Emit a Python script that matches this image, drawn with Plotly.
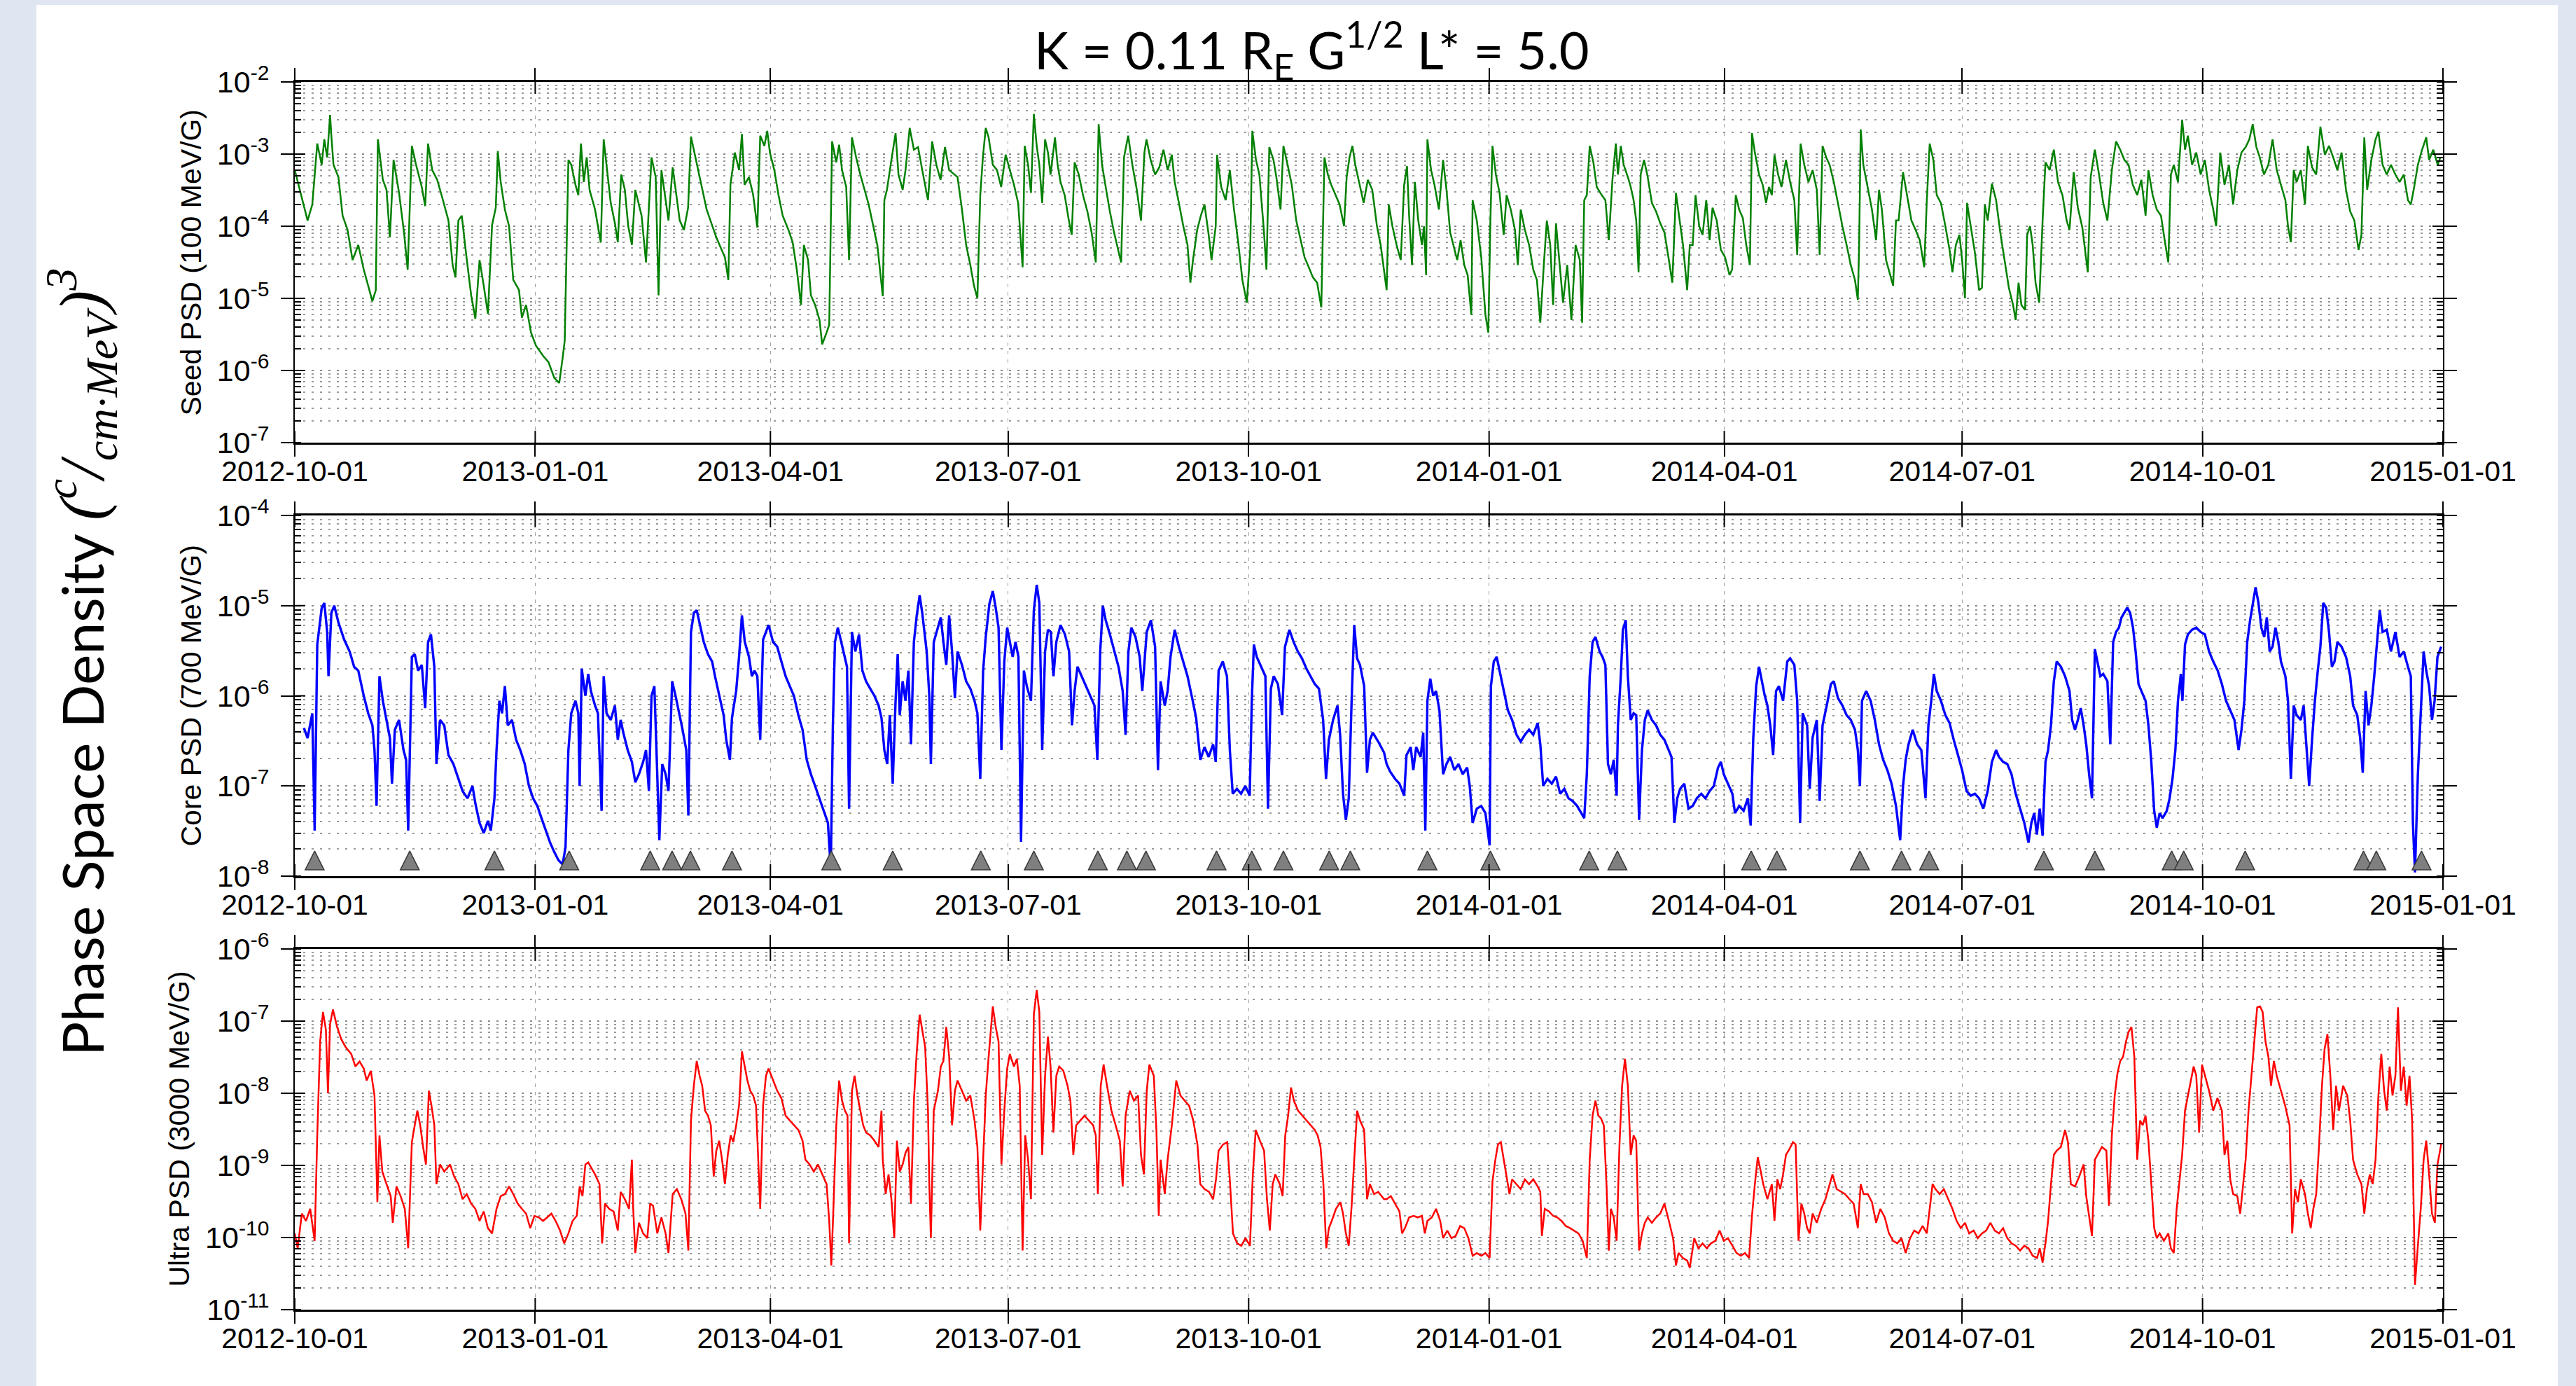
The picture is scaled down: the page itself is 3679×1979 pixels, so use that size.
import pandas as pd
import plotly.graph_objects as go
from plotly.subplots import make_subplots

# ---------------- data (days since 2012-10-01, PSD) ----------------
START = "2012-10-01"
END = "2015-01-01"
x_ticks = ["2012-10-01", "2013-01-01", "2013-04-01", "2013-07-01", "2013-10-01",
           "2014-01-01", "2014-04-01", "2014-07-01", "2014-10-01", "2015-01-01"]

seed_points = [
(0,6.0e-4),(4.9,1.2e-4),(6.7,2.0e-4),(8.6,1.4e-3),(10.3,7.1e-4),(11.3,1.6e-3),(12.4,9.0e-4),(13.5,3.5e-3),(14.0,1.8e-3),(14.8,7.1e-4),
(16.7,4.8e-4),(18.3,1.4e-4),(20.2,8.9e-5),(22.1,3.4e-5),(24.3,5.5e-5),(26.4,2.5e-5),(28.3,1.4e-5),(29.7,9.1e-6),(31.0,1.3e-5),(31.8,1.6e-3),
(33.7,4.4e-4),(35.1,3.2e-4),(36.4,7.0e-5),(37.8,8.3e-4),(39.9,2.9e-4),(41.8,8.2e-5),(43.2,2.5e-5),(44.0,2.3e-4),(44.8,1.3e-3),(46.4,7.1e-4),
(48.6,3.5e-4),(49.9,1.9e-4),(51.0,1.4e-3),(52.6,6.0e-4),(54.5,4.4e-4),(56.7,2.3e-4),(58.8,1.2e-4),(60.4,2.9e-5),(61.5,1.95e-5),(62.6,1.2e-4),
(63.9,1.4e-4),(65.6,4.0e-5),(67.5,1.1e-5),(69.1,5.2e-6),(70.7,3.4e-5),(72.3,1.5e-5),(73.9,6.1e-6),(75.5,1.04e-4),(76.9,1.8e-4),(77.7,1.1e-3),
(78.8,4.1e-4),(80.4,1.7e-4),(82.0,1.0e-4),(83.6,1.8e-5),(85.8,1.3e-5),(86.9,5.4e-6),(88.5,8.1e-6),(90.4,3.35e-6),(92.3,2.2e-6),(95.0,1.6e-6),
(97.1,1.3e-6),(99.3,7.9e-7),(101.2,6.7e-7),(102.5,1.5e-6),(103.3,2.6e-6),(104.7,8.3e-4),(105.8,7.1e-4),(107.4,3.75e-4),(108.5,2.7e-4),(109.5,1.4e-3),
(110.6,4.1e-4),(111.7,9.0e-4),(112.8,3.2e-4),(114.9,1.7e-4),(117.1,5.95e-5),(118.2,1.6e-3),(119.5,6.0e-4),(120.9,2.1e-4),(122.5,1.1e-4),(123.6,6.0e-5),
(124.9,5.2e-4),(126.3,3.2e-4),(127.6,1.0e-4),(129.0,5.5e-5),(130.3,3.2e-4),(132.7,1.4e-4),(134.4,3.15e-5),(136.5,9.0e-4),(138.1,4.8e-4),(139.2,1.1e-5),
(140.3,6.0e-4),(143.0,1.2e-4),(144.6,6.55e-4),(147.3,1.2e-4),(148.9,8.9e-5),(150.5,1.8e-4),(151.6,1.75e-3),(154.3,6.0e-4),(157.6,1.7e-4),(161.3,7.0e-5),
(164.6,3.7e-5),(165.9,1.8e-5),(166.7,3.75e-4),(168.4,1.05e-3),(170.0,6.0e-4),(171.1,1.9e-3),(172.1,3.75e-4),(173.8,4.8e-4),(175.4,2.7e-4),(177.0,9.6e-5),
(178.1,1.8e-3),(179.7,1.3e-3),(180.8,2.1e-3),(181.8,1.05e-3),(183.5,6.0e-4),(185.1,2.7e-4),(186.7,1.4e-4),(188.9,8.9e-5),(190.5,6.0e-5),(192.1,2.5e-5),
(193.7,8.1e-6),(194.8,5.5e-5),(196.4,3.4e-5),(197.5,1.1e-5),(199.1,8.1e-6),(200.8,5.0e-6),(201.8,2.3e-6),(203.5,3.35e-6),(204.5,4.3e-6),(205.6,1.5e-3),
(207.2,7.7e-4),(208.3,1.35e-3),(209.4,6.0e-4),(211.0,3.5e-4),(212.1,3.4e-5),(213.2,1.7e-3),(214.8,9.0e-4),(216.4,5.2e-4),(219.6,2.0e-4),(222.9,5.5e-5),
(223.9,2.5e-5),(225.0,1.07e-5),(225.6,2.3e-4),(226.6,3.2e-4),(228.3,8.3e-4),(229.9,1.95e-3),(231.0,5.2e-4),(232.6,3.2e-4),(233.7,6.0e-4),(235.3,2.3e-3),
(236.9,1.15e-3),(238.5,1.25e-3),(240.1,6.0e-4),(242.3,2.3e-4),(243.9,1.5e-3),(245.5,7.1e-4),(247.1,4.4e-4),(248.8,1.25e-3),(250.4,6.0e-4),(253.6,4.8e-4),
(255.3,1.7e-4),(256.9,5.5e-5),(258.5,2.9e-5),(259.9,1.5e-5),(261.2,1.0e-5),(262.3,2.7e-4),(263.3,9.0e-4),(264.4,2.3e-3),(265.5,1.7e-3),(267.1,7.1e-4),
(268.7,6.0e-4),(270.3,3.5e-4),(272.0,9.8e-4),(273.6,6.0e-4),(275.2,3.75e-4),(276.8,2.1e-4),(278.5,2.7e-5),(279.3,1.3e-3),(280.6,7.1e-4),(281.7,2.9e-4),
(282.8,3.6e-3),(283.9,1.3e-3),(284.9,7.1e-4),(286.0,2.1e-4),(287.1,1.6e-3),(288.2,1.05e-3),(289.2,5.2e-4),(290.9,1.7e-3),(291.9,7.1e-4),(293.0,4.1e-4),
(294.6,2.7e-4),(296.2,1.2e-4),(297.3,7.6e-5),(298.4,7.7e-4),(300.0,5.2e-4),(301.6,2.7e-4),(303.3,1.6e-4),(304.9,8.2e-5),(306.5,3.15e-5),(307.6,2.6e-3),
(308.9,7.1e-4),(310.3,3.5e-4),(311.9,1.6e-4),(313.5,8.2e-5),(314.6,5.5e-5),(316.2,3.15e-5),(317.3,9.0e-4),(318.9,1.8e-3),(320.5,7.1e-4),(322.2,3.2e-4),
(323.8,1.2e-4),(325.1,1.05e-3),(325.9,1.6e-3),(327.5,8.3e-4),(329.2,5.2e-4),(330.8,6.55e-4),(332.4,1.15e-3),(334.0,6.0e-4),(335.6,9.8e-4),(336.7,4.1e-4),
(338.3,2.1e-4),(340.0,1.0e-4),(341.6,5.5e-5),(342.7,1.65e-5),(343.7,3.4e-5),(345.3,8.9e-5),(346.7,1.4e-4),(348.1,2.0e-4),(349.7,7.6e-5),(350.8,3.4e-5),
(352.4,1.0e-4),(352.9,9.8e-4),(354.5,3.5e-4),(356.2,2.3e-4),(357.8,6.0e-4),(359.4,1.7e-4),(361.0,6.0e-5),(362.6,1.8e-5),(364.3,8.7e-6),(365.6,4.7e-5),
(366.4,2.1e-3),(367.8,8.3e-4),(369.1,5.2e-4),(370.8,8.9e-5),(371.8,2.5e-5),(372.9,1.25e-3),(374.5,8.3e-4),(375.6,4.8e-4),(377.2,1.7e-4),(378.3,1.3e-3),
(379.9,7.1e-4),(381.5,3.75e-4),(383.2,1.2e-4),(384.8,6.4e-5),(386.4,3.7e-5),(388.0,2.7e-5),(389.6,1.95e-5),(391.2,1.65e-5),(392.8,7.5e-6),(394.0,9.0e-4),
(395.3,5.2e-4),(396.6,3.75e-4),(398.2,2.7e-4),(399.8,2.0e-4),(401.5,1.0e-4),(402.5,4.8e-4),(403.6,9.0e-4),(404.7,1.3e-3),(405.8,7.1e-4),(407.4,3.75e-4),
(409.0,2.1e-4),(410.6,4.4e-4),(412.3,3.2e-4),(414.1,1.0e-4),(415.5,5.5e-5),(417.8,1.3e-5),
(418.6,2.0e-4),(420.0,1.0e-4),(421.6,5.5e-5),(423.2,3.4e-5),(424.5,3.75e-4),(425.6,6.8e-4),(426.4,1.4e-4),(427.5,2.9e-5),(428.6,4.1e-4),(429.9,1.2e-4),
(431.3,5.5e-5),(432.1,1.0e-4),(432.9,2.1e-5),(433.4,1.6e-3),(434.8,6.0e-4),(436.1,3.75e-4),(437.8,1.7e-4),(439.4,8.3e-4),(440.7,3.2e-4),(442.1,8.2e-5),
(443.4,5.5e-5),(444.8,3.4e-5),(446.1,6.4e-5),(447.5,2.9e-5),(448.8,2.1e-5),(450.2,5.9e-6),(450.7,2.3e-4),(452.3,1.2e-4),(454.0,3.7e-5),(455.6,5.9e-6),
(456.7,3.35e-6),(457.5,1.2e-4),(458.3,1.3e-3),(459.6,5.2e-4),(461.0,2.9e-4),(462.6,7.6e-5),(463.7,2.7e-4),(465.3,1.7e-4),(466.9,8.9e-5),(468.0,2.9e-5),
(469.1,1.7e-4),(470.7,8.9e-5),(472.3,5.5e-5),(473.9,2.5e-5),(475.3,1.8e-5),(476.6,4.6e-6),(478.0,3.15e-5),(479.1,1.2e-4),(480.4,5.5e-5),(481.5,8.1e-6),
(482.6,1.1e-4),(484.2,2.5e-5),(485.3,8.7e-6),(486.9,2.9e-5),(488.5,5.0e-6),(490.1,5.5e-5),(491.7,3.4e-5),(492.6,4.6e-6),(493.4,2.3e-4),(494.4,2.7e-4),
(495.5,1.3e-3),(496.9,7.7e-4),(498.2,3.5e-4),(500.1,2.7e-4),(501.5,2.3e-4),(502.8,6.4e-5),(504.2,4.4e-4),(505.5,1.4e-3),(506.3,5.2e-4),(507.4,1.3e-3),
(508.5,7.1e-4),(510.1,4.8e-4),(511.2,3.5e-4),(512.3,2.3e-4),(513.3,1.2e-4),(514.2,2.3e-5),(515.0,5.2e-4),(516.3,8.3e-4),(517.7,4.8e-4),(519.3,2.1e-4),
(520.9,1.6e-4),(522.5,1.1e-4),(524.1,8.2e-5),(525.8,3.4e-5),(527.1,1.65e-5),(528.5,2.9e-4),(529.8,1.3e-4),(531.2,5.5e-5),(532.8,1.3e-5),(533.8,5.5e-5),
(534.9,5.5e-5),(536.0,2.7e-4),(537.4,1.0e-4),(538.7,7.6e-5),(540.1,2.3e-4),(541.4,6.4e-5),(542.5,1.8e-4),(544.1,1.2e-4),(545.7,4.7e-5),(547.3,3.7e-5),
(549.0,2.1e-5),(550.0,2.5e-5),(551.4,2.7e-4),(552.7,1.7e-4),(554.1,1.3e-4),(555.4,5.5e-5),(556.8,2.9e-5),(557.6,1.95e-3),(558.7,1.05e-3),(560.3,5.2e-4),
(561.7,3.75e-4),(563.0,2.1e-4),(564.1,3.5e-4),(565.2,2.7e-4),(566.2,9.8e-4),(567.6,5.2e-4),(568.9,3.5e-4),(570.6,8.3e-4),(572.2,4.1e-4),(573.8,2.3e-4),
(574.9,4.0e-5),(576.2,1.4e-3),(577.6,7.1e-4),(579.2,4.1e-4),(580.8,6.0e-4),(582.4,3.2e-4),(583.5,4.0e-5),(584.6,1.3e-3),(586.0,9.0e-4),(587.3,7.1e-4),
(588.9,4.1e-4),(590.5,2.0e-4),(592.2,1.0e-4),(593.8,5.5e-5),(595.4,2.9e-5),(597.0,1.8e-5),(598.1,9.5e-6),(598.6,5.5e-5),(599.2,2.2e-3),(600.2,7.1e-4),
(601.9,3.5e-4),(603.5,1.7e-4),(605.1,6.4e-5),(606.2,3.2e-4),(607.3,1.7e-4),(608.9,3.4e-5),(610.5,2.1e-5),(611.6,1.5e-5),(612.7,1.2e-4),(613.7,1.2e-4),
(615.4,5.6e-4),(617.0,2.7e-4),(618.6,1.2e-4),(620.2,8.9e-5),(621.8,6.4e-5),(623.5,2.7e-5),(624.5,2.3e-4),(625.6,1.4e-3),(627.0,8.3e-4),(628.3,2.7e-4),
(629.9,2.1e-4),(631.6,1.0e-4),(633.2,4.7e-5),(634.3,2.3e-5),(635.6,5.5e-5),(637.0,7.6e-5),(638.0,3.4e-5),(639.1,1.0e-5),(639.9,2.1e-4),(641.3,1.0e-4),
(642.9,4.3e-5),(644.5,1.3e-5),(645.6,1.4e-5),(646.7,2.0e-4),(647.8,1.2e-4),(649.4,3.9e-4),(651.0,2.3e-4),(652.6,8.2e-5),(654.2,3.4e-5),(655.9,1.4e-5),
(657.5,8.1e-6),(658.5,5.0e-6),(659.6,1.65e-5),(660.7,8.1e-6),(662.1,6.9e-6),(662.9,7.6e-5),(664.0,1.0e-4),(665.0,5.5e-5),(666.1,1.65e-5),(667.5,8.7e-6),
(668.8,1.2e-4),(669.9,7.7e-4),(671.5,6.0e-4),(673.1,1.15e-3),(674.7,4.1e-4),(676.4,2.7e-4),(678.0,1.2e-4),(679.1,8.9e-5),(680.7,5.6e-4),(682.3,1.8e-4),
(684.0,9.6e-5),(685.0,4.7e-5),(686.1,2.3e-5),(687.2,4.8e-4),(688.8,1.15e-3),(690.4,5.2e-4),(692.0,2.1e-4),(693.6,1.2e-4),(695.3,6.0e-4),(696.9,1.5e-3),
(698.5,1.15e-3),(700.1,8.3e-4),(701.7,7.1e-4),(703.3,3.75e-4),(705.0,2.7e-4),(706.6,4.4e-4),(708.2,1.4e-4),(709.3,6.0e-4),(710.9,2.7e-4),(712.5,1.7e-4),
(714.1,1.4e-4),(715.8,5.5e-5),(716.9,3.15e-5),(717.9,5.2e-4),(719.0,7.1e-4),(720.6,4.1e-4),(722.2,3.0e-3),(723.3,1.15e-3),(724.4,1.8e-3),(726.0,7.1e-4),
(727.6,1.05e-3),(729.3,5.2e-4),(730.9,8.3e-4),(732.5,3.2e-4),(734.1,1.7e-4),(735.2,1.0e-4),(736.8,1.05e-3),(738.4,3.75e-4),(740.1,7.1e-4),(741.7,2.0e-4),
(743.3,6.0e-4),(744.9,1.05e-3),(746.5,1.25e-3),(747.9,1.6e-3),(749.2,2.6e-3),(750.6,1.25e-3),(751.9,9.0e-4),(753.5,5.2e-4),(755.2,7.1e-4),(756.8,1.6e-3),
(758.4,6.0e-4),(760.0,3.75e-4),(761.7,2.3e-4),(762.7,1.0e-4),(763.8,6.0e-5),(764.9,6.0e-4),(766.0,4.1e-4),(767.6,6.0e-4),(769.2,2.0e-4),(770.3,1.3e-3),
(771.9,6.55e-4),(773.5,5.2e-4),(775.1,2.4e-3),(776.8,9.8e-4),(778.4,1.3e-3),(780.0,9.0e-4),(781.6,6.0e-4),(783.2,1.05e-3),(784.9,3.2e-4),(786.5,1.6e-4),
(788.1,1.2e-4),(789.7,4.7e-5),(790.8,7.6e-5),(791.9,1.7e-3),(793.0,3.2e-4),(794.6,8.3e-4),(796.2,1.6e-3),(797.3,2.05e-3),(798.9,7.1e-4),(800.5,5.2e-4),
(802.1,7.1e-4),(803.8,5.2e-4),(805.4,4.1e-4),(807.0,5.2e-4),(808.6,2.3e-4),(809.7,2.0e-4),(810.8,3.2e-4),(812.4,7.1e-4),(814.0,1.15e-3),(815.6,1.7e-3),
(816.7,8.3e-4),(818.3,1.15e-3),(820.0,7.1e-4),(821.0,9.0e-4),
]

core_points = [
(3.5,4.4e-7),(4.9,3.4e-7),(6.7,6.4e-7),(7.6,3.2e-8),(8.6,3.7e-6),(10.3,9.4e-6),(11.3,1.07e-5),(12.4,5.1e-6),(12.9,1.65e-6),(14.0,8.3e-6),
(15.1,1.0e-5),(16.7,6.5e-6),(18.9,4.2e-6),(21.0,3.1e-6),(22.7,2.1e-6),(24.3,1.9e-6),(26.4,1.0e-6),(28.1,6.4e-7),(29.7,4.7e-7),(30.5,2.5e-7),
(31.3,6.0e-8),(32.4,1.65e-6),(33.7,8.8e-7),(35.1,5.4e-7),(36.4,3.4e-7),(37.2,1.06e-7),(38.3,4.2e-7),(39.9,5.4e-7),(41.6,2.5e-7),(42.6,1.95e-7),
(43.4,3.2e-8),(44.8,2.7e-6),(45.9,2.9e-6),(47.2,1.9e-6),(48.6,2.2e-6),(49.9,7.3e-7),(51.0,3.95e-6),(52.1,4.8e-6),(53.4,2.1e-6),(54.2,1.75e-7),
(55.6,5.4e-7),(57.2,4.7e-7),(58.8,2.2e-7),(60.7,1.75e-7),(62.6,1.2e-7),(64.2,8.8e-8),(66.1,7.3e-8),(68.0,1.0e-7),(69.1,6.4e-8),(70.7,3.9e-8),
(72.3,3.0e-8),(73.9,4.1e-8),(75.0,3.2e-8),(76.4,7.3e-8),(77.2,2.5e-7),(78.3,8.8e-7),(79.3,6.4e-7),(80.4,1.28e-6),(81.5,4.7e-7),(83.1,5.4e-7),
(84.7,3.25e-7),(86.3,2.5e-7),(88.0,1.75e-7),(89.6,1.0e-7),(91.2,7.3e-8),(92.8,6.0e-8),(94.4,4.4e-8),(96.1,3.2e-8),(97.7,2.35e-8),(99.3,1.85e-8),
(100.9,1.5e-8),(102.5,1.35e-8),(103.6,2.1e-8),(104.7,2.5e-7),(105.8,6.4e-7),(107.4,8.8e-7),(108.5,6.4e-7),(109.0,1.0e-7),(109.8,2.0e-6),(111.2,1.0e-6),
(112.3,1.75e-6),(113.3,1.13e-6),(114.9,7.8e-7),(116.0,6.4e-7),(117.4,5.3e-8),(118.2,1.65e-6),(119.3,6.4e-7),(120.9,5.4e-7),(122.5,7.8e-7),(123.6,3.25e-7),
(124.7,5.4e-7),(125.7,3.9e-7),(127.4,2.5e-7),(129.0,1.85e-7),(130.3,1.1e-7),(131.7,1.35e-7),(133.3,1.85e-7),(134.4,2.5e-7),(135.5,8.8e-8),(136.5,1.0e-6),
(137.6,1.28e-6),(138.4,2.5e-7),(139.5,2.5e-8),(140.6,1.75e-7),(141.9,1.35e-7),(143.0,8.8e-8),(144.4,1.45e-6),(145.7,1.0e-6),(147.1,6.4e-7),(148.4,4.2e-7),
(149.8,2.5e-7),(150.6,4.7e-8),(151.6,5.1e-6),(152.7,8.3e-6),(153.8,8.9e-6),(155.2,5.7e-6),(156.5,3.95e-6),(158.1,2.9e-6),(159.7,2.4e-6),(160.8,1.65e-6),
(162.4,1.0e-6),(164.1,6.1e-7),(165.1,3.25e-7),(166.5,1.95e-7),(167.3,5.7e-7),(168.9,1.13e-6),(170.0,2.7e-6),(171.1,7.8e-6),(172.2,3.95e-6),(173.8,2.7e-6),
(174.9,1.65e-6),(175.9,1.9e-6),(177.0,1.65e-6),(178.1,3.25e-7),(179.2,4.2e-6),(180.3,5.1e-6),(181.3,6.1e-6),(183.0,3.95e-6),(184.6,3.5e-6),(186.2,2.4e-6),
(187.8,1.65e-6),(189.4,1.28e-6),(191.0,1.0e-6),(192.7,6.1e-7),(194.3,4.2e-7),(195.9,1.95e-7),(197.5,1.35e-7),(199.1,1.0e-7),(200.8,7.3e-8),(202.4,5.3e-8),
(204.0,3.9e-8),(205.1,1.2e-8),(205.9,4.7e-7),(206.7,3.95e-6),(207.8,5.7e-6),(209.1,3.95e-6),(210.5,2.7e-6),(211.3,2.1e-6),(212.1,5.6e-8),(213.2,5.1e-6),
(214.5,3.1e-6),(215.9,4.8e-6),(217.2,1.9e-6),(218.6,1.45e-6),(220.2,1.2e-6),(221.8,1.0e-6),(223.4,7.8e-7),(224.5,5.7e-7),(225.6,2.5e-7),(226.7,1.75e-7),
(227.7,6.1e-7),(228.8,1.06e-7),(229.9,8.8e-7),(230.7,2.9e-6),(231.5,6.1e-7),(232.6,1.45e-6),(233.7,8.8e-7),(234.8,1.9e-6),(235.8,2.9e-7),(236.9,3.95e-6),
(238.0,7.8e-6),(239.1,1.3e-5),(240.1,8.3e-6),(241.8,3.1e-6),(242.8,1.0e-6),(243.4,1.75e-7),(244.5,3.95e-6),(246.1,5.7e-6),(247.2,7.4e-6),(248.2,3.95e-6),
(249.3,2.2e-6),(250.4,7.8e-6),(251.5,3.1e-6),(252.6,9.4e-7),(253.6,3.1e-6),(255.3,2.2e-6),(256.9,1.45e-6),(258.5,1.2e-6),(260.1,8.8e-7),(261.2,6.4e-7),
(262.3,1.2e-7),(263.4,1.9e-6),(264.4,4.5e-6),(265.8,1.05e-5),(267.1,1.45e-5),(268.2,9.5e-6),(269.3,5.7e-6),(270.4,2.5e-7),(271.5,2.4e-6),(272.6,5.7e-6),
(273.6,3.95e-6),(274.7,2.7e-6),(275.8,3.95e-6),(276.9,2.7e-6),(277.9,2.4e-8),(279.0,1.9e-6),(280.1,1.28e-6),(281.7,8.8e-7),(282.8,8.9e-6),(283.9,1.7e-5),
(284.9,1.07e-5),(286.0,2.5e-7),(287.1,3.1e-6),(288.2,5.4e-6),(289.3,5.1e-6),(290.3,1.65e-6),(291.4,3.95e-6),(293.0,6.1e-6),(294.7,4.8e-6),(296.3,3.1e-6),
(297.4,4.7e-7),(298.4,1.13e-6),(299.5,2.1e-6),(301.1,1.65e-6),(302.7,1.28e-6),(304.4,1.0e-6),(306.0,7.8e-7),(307.1,1.95e-7),(308.2,3.1e-6),(309.2,1.0e-5),
(310.3,6.9e-6),(311.9,4.8e-6),(313.6,3.1e-6),(315.2,2.1e-6),(316.8,1.13e-6),(317.9,3.7e-7),(319.0,3.1e-6),(320.1,5.7e-6),(321.7,4.5e-6),(323.3,2.7e-6),
(324.3,1.13e-6),(326.0,5.1e-6),(327.6,6.9e-6),(329.2,3.5e-6),(330.3,1.5e-7),(331.3,1.45e-6),(332.9,7.8e-7),(334.0,1.13e-6),(335.1,2.7e-6),(336.7,5.4e-6),
(338.3,3.5e-6),(340.0,2.4e-6),(341.6,1.65e-6),(343.2,1.0e-6),(344.9,5.7e-7),(346.5,1.95e-7),(348.1,2.7e-7),(349.7,2.1e-7),(351.4,2.9e-7),(352.4,1.85e-7),
(353.5,1.9e-6),(355.1,2.4e-6),(356.7,1.65e-6),(357.8,2.5e-7),(358.9,8.2e-8),(360.5,9.3e-8),(362.1,8.2e-8),(363.7,1.0e-7),(365.4,7.8e-8),(366.2,8.8e-7),
(367.0,3.7e-6),(368.1,2.7e-6),(369.8,2.1e-6),(371.4,1.65e-6),(372.4,5.6e-8),(373.5,1.2e-6),(374.6,1.65e-6),(376.2,1.35e-6),(377.8,6.1e-7),(378.9,3.5e-6),
(380.6,5.4e-6),(382.2,3.95e-6),(383.8,3.1e-6),(385.4,2.6e-6),(387.1,2.0e-6),(388.7,1.65e-6),(390.3,1.35e-6),(391.9,1.2e-6),(393.5,5.4e-7),(394.6,1.2e-7),
(395.7,3.25e-7),(397.3,5.4e-7),(399.0,7.8e-7),(400.0,3.7e-7),(401.1,8.2e-8),(402.2,4.2e-8),(403.3,7.3e-8),(404.4,8.8e-7),(405.4,6.1e-6),(406.5,2.6e-6),
(407.6,2.2e-6),(409.2,1.28e-6),(410.3,1.4e-7),(411.4,3.25e-7),(412.5,3.9e-7),(414.6,3.1e-7),(416.8,2.35e-7),
(417.8,1.75e-7),(419.1,1.45e-7),(421.0,1.2e-7),(422.7,1.06e-7),(424.5,7.8e-8),(425.4,2.2e-7),(427.0,2.7e-7),(428.0,1.5e-7),(429.1,2.7e-7),(430.8,2.1e-7),
(431.8,3.9e-7),(432.6,3.2e-8),(433.4,8.8e-7),(434.5,1.55e-6),(435.6,1.0e-6),(436.7,1.13e-6),(438.0,6.9e-7),(439.4,1.35e-7),(440.7,1.75e-7),(442.1,2.1e-7),
(443.7,1.5e-7),(445.3,1.75e-7),(446.9,1.35e-7),(448.6,1.6e-7),(449.6,1.0e-7),(450.7,3.9e-8),(452.3,5.6e-8),(454.0,6.0e-8),(455.6,5.0e-8),(456.7,2.9e-8),
(457.2,2.2e-8),(457.7,1.28e-6),(458.8,2.4e-6),(459.9,2.7e-6),(461.0,1.9e-6),(462.6,1.13e-6),(464.2,6.9e-7),(465.8,5.4e-7),(467.5,3.7e-7),(469.1,3.1e-7),
(470.7,3.7e-7),(472.3,4.2e-7),(473.9,3.7e-7),(475.6,5.0e-7),(476.6,2.9e-7),(477.7,1.0e-7),(479.3,1.2e-7),(481.0,1.06e-7),(482.6,1.27e-7),(484.2,8.2e-8),
(485.8,9.3e-8),(487.4,7.3e-8),(489.0,6.8e-8),(490.7,6.0e-8),(492.3,5.0e-8),(493.4,4.4e-8),(494.4,1.35e-7),(495.5,1.65e-6),(496.6,3.95e-6),(497.7,4.5e-6),
(499.3,3.1e-6),(500.4,2.7e-6),(501.5,2.2e-6),(502.5,1.75e-7),(503.6,1.35e-7),(504.7,1.95e-7),(505.8,7.8e-8),(506.3,4.7e-7),(507.4,1.65e-6),(508.2,5.4e-6),
(509.3,6.9e-6),(510.1,1.65e-6),(511.2,5.4e-7),(512.3,6.4e-7),(513.3,6.1e-7),(514.4,4.2e-8),(515.5,2.5e-7),(516.6,5.4e-7),(517.7,6.9e-7),(519.3,5.4e-7),
(520.9,4.7e-7),(522.5,3.7e-7),(524.1,3.25e-7),(525.8,2.5e-7),(526.8,2.1e-7),(527.9,3.9e-8),(529.0,7.3e-8),(530.1,9.3e-8),(531.7,1.06e-7),(533.3,5.6e-8),
(534.9,6.0e-8),(536.5,7.3e-8),(538.2,8.2e-8),(539.8,7.3e-8),(541.4,8.8e-8),(543.0,1.0e-7),(544.6,1.6e-7),(545.7,1.85e-7),(546.8,1.35e-7),(548.4,1.06e-7),
(550.1,8.2e-8),(551.1,5.0e-8),(552.7,6.0e-8),(554.4,5.3e-8),(556.0,7.3e-8),(557.1,3.65e-8),(558.1,3.45e-7),(559.2,1.28e-6),(560.3,2.1e-6),(561.4,1.45e-6),
(562.5,1.0e-6),(563.5,7.8e-7),(564.6,4.7e-7),(565.7,2.2e-7),(566.8,1.13e-6),(567.9,1.28e-6),(569.5,8.8e-7),(571.1,2.4e-6),(572.2,2.6e-6),(573.8,2.2e-6),
(574.9,8.8e-7),(576.0,3.9e-8),(577.0,6.4e-7),(578.7,4.7e-7),(579.7,9.3e-8),(580.8,3.45e-7),(582.4,5.4e-7),(583.5,6.8e-8),(584.6,4.7e-7),(586.2,7.8e-7),
(587.8,1.35e-6),(588.9,1.45e-6),(590.5,9.4e-7),(592.2,7.8e-7),(593.8,6.1e-7),(595.4,5.4e-7),(597.0,4.2e-7),(598.1,2.5e-7),(598.9,1.0e-7),(599.7,8.8e-7),
(601.3,1.13e-6),(603.0,8.8e-7),(604.6,5.4e-7),(606.2,2.9e-7),(607.8,1.95e-7),(609.4,1.5e-7),(611.0,1.06e-7),(612.7,6.0e-8),(614.3,2.5e-8),(615.4,1.0e-7),
(616.4,1.95e-7),(617.5,2.9e-7),(619.1,4.2e-7),(620.8,2.9e-7),(622.4,2.5e-7),(624.0,7.3e-8),(625.1,4.7e-7),(626.2,8.8e-7),(627.2,1.75e-6),(628.3,1.13e-6),
(629.9,8.8e-7),(631.6,6.1e-7),(633.2,5.0e-7),(634.8,3.25e-7),(636.4,2.2e-7),(638.0,1.5e-7),(639.7,8.8e-8),(641.3,7.8e-8),(642.9,8.2e-8),(644.5,7.3e-8),
(646.1,5.6e-8),(647.8,8.8e-8),(649.4,1.85e-7),(651.0,2.5e-7),(652.1,2.1e-7),(653.7,1.85e-7),(655.3,1.75e-7),(656.9,1.35e-7),(658.5,8.2e-8),(660.2,5.6e-8),
(661.8,3.9e-8),(663.4,2.35e-8),(664.5,3.9e-8),(665.6,5.0e-8),(666.6,2.9e-8),(667.7,5.6e-8),(668.8,2.8e-8),(669.9,1.85e-7),(670.9,2.5e-7),(672.0,4.7e-7),
(673.1,1.45e-6),(674.2,2.4e-6),(675.8,2.1e-6),(677.4,1.65e-6),(679.1,1.13e-6),(680.1,5.4e-7),(681.2,4.2e-7),(682.3,5.4e-7),(683.4,7.3e-7),(684.5,4.7e-7),
(685.5,2.9e-7),(686.6,1.35e-7),(687.7,7.3e-8),(688.8,3.3e-6),(689.9,2.2e-6),(690.9,1.65e-6),(692.0,1.75e-6),(693.6,1.45e-6),(694.7,2.9e-7),(695.8,3.95e-6),
(696.9,5.1e-6),(698.0,5.7e-6),(699.0,7.4e-6),(700.1,8.3e-6),(701.2,9.5e-6),(702.3,8.3e-6),(703.4,5.7e-6),(704.4,3.1e-6),(705.5,1.35e-6),(706.6,1.13e-6),
(708.2,8.8e-7),(709.3,4.7e-7),(710.4,1.85e-7),(711.5,5.3e-8),(712.5,3.45e-8),(713.6,5.0e-8),(714.7,4.4e-8),(716.3,5.3e-8),(717.4,7.3e-8),(718.5,1.2e-7),
(719.6,2.5e-7),(720.6,8.8e-7),(721.7,1.75e-6),(722.3,8.8e-7),(723.3,3.7e-6),(724.4,4.8e-6),(726.0,5.4e-6),(727.6,5.7e-6),(729.3,5.1e-6),(730.9,4.8e-6),
(732.5,3.1e-6),(734.1,2.4e-6),(735.8,1.9e-6),(737.4,1.35e-6),(739.0,8.8e-7),(740.6,6.9e-7),(742.2,5.4e-7),(743.8,2.5e-7),(744.9,4.2e-7),(746.0,8.8e-7),
(747.1,3.95e-6),(748.2,6.9e-6),(749.3,1.07e-5),(750.3,1.6e-5),(751.4,1.07e-5),(752.5,5.7e-6),(753.6,4.5e-6),(754.6,7.4e-6),(755.7,3.1e-6),(756.8,3.5e-6),
(757.9,5.7e-6),(759.0,3.95e-6),(760.0,2.4e-6),(761.7,1.65e-6),(762.7,8.8e-7),(763.8,1.2e-7),(764.9,7.8e-7),(766.0,6.1e-7),(767.6,5.4e-7),(768.7,7.8e-7),
(769.7,2.9e-7),(770.8,1.0e-7),(771.9,3.25e-7),(773.0,8.8e-7),(774.1,1.9e-6),(775.1,3.5e-6),(776.2,1.07e-5),(777.3,9.5e-6),(778.4,5.1e-6),(779.5,2.1e-6),
(780.5,2.4e-6),(781.6,3.95e-6),(783.2,3.5e-6),(784.9,2.7e-6),(786.5,1.65e-6),(787.6,7.8e-7),(789.2,6.1e-7),(790.3,3.45e-7),(791.3,1.4e-7),(792.4,1.13e-6),
(793.5,4.7e-7),(794.6,7.8e-7),(795.7,1.65e-6),(796.7,3.95e-6),(797.8,8.9e-6),(798.9,5.1e-6),(800.5,5.4e-6),(802.1,3.1e-6),(803.8,5.1e-6),(805.4,2.7e-6),
(807.0,3.1e-6),(808.6,2.1e-6),(809.7,1.65e-6),(810.5,3.9e-8),(811.3,1.1e-8),(812.4,1.35e-7),(813.5,6.9e-7),(814.6,3.1e-6),(815.6,1.9e-6),(816.7,1.28e-6),
(817.8,5.4e-7),(818.8,8.8e-7),(819.9,2.7e-6),(821.3,3.5e-6),
]

ultra_points = [
(0,1.14e-10),(1.1,7.1e-11),(2.7,2.15e-10),(4.3,1.7e-10),(5.9,2.5e-10),(7.6,9.0e-11),(8.6,2.6e-9),(9.7,5.2e-8),(10.8,1.34e-7),(11.9,7.6e-8),
(12.7,1.0e-8),(13.5,9.0e-8),(14.6,1.45e-7),(16.2,8.3e-8),(17.8,5.6e-8),(19.4,4.4e-8),(21.6,3.5e-8),(23.2,2.35e-8),(24.8,2.75e-8),(26.4,2.2e-8),
(27.5,1.5e-8),(29.1,2.05e-8),(30.5,9.3e-9),(31.6,3.1e-10),(32.4,2.6e-9),(33.5,8.2e-10),(35.1,5.5e-10),(36.7,3.75e-10),(37.5,1.6e-10),(38.9,5.1e-10),
(40.5,3.75e-10),(42.1,2.5e-10),(43.4,7.1e-11),(44.8,2.1e-9),(45.9,3.6e-9),(46.9,5.75e-9),(48.0,3.6e-9),(49.1,1.8e-9),(50.2,1.03e-9),(51.3,1.08e-8),
(52.3,6.75e-9),(53.4,3.6e-9),(54.2,5.5e-10),(55.6,1.03e-9),(57.2,8.2e-10),(59.4,1.03e-9),(61.0,7.0e-10),(62.6,5.5e-10),(64.2,3.4e-10),(65.8,4.0e-10),
(67.5,2.95e-10),(69.1,2.5e-10),(70.7,1.7e-10),(72.3,2.3e-10),(73.9,1.35e-10),(75.5,1.14e-10),(77.2,2.5e-10),(78.8,3.75e-10),(80.4,4.0e-10),(82.0,5.1e-10),
(83.6,4.0e-10),(85.3,2.95e-10),(86.9,2.5e-10),(88.5,2.15e-10),(90.1,1.35e-10),(91.7,2.0e-10),(93.4,1.9e-10),(95.0,1.7e-10),(96.6,1.9e-10),(98.2,2.15e-10),
(99.8,1.7e-10),(101.5,1.25e-10),(103.1,8.3e-11),(104.7,1.14e-10),(106.3,1.7e-10),(107.9,2.0e-10),(109.0,5.1e-10),(110.1,3.75e-10),(111.2,1.03e-9),(112.3,1.1e-9),
(113.3,9.5e-10),(114.9,7.5e-10),(116.6,5.5e-10),(117.6,8.3e-11),(118.7,2.95e-10),(120.3,2.5e-10),(122.0,2.3e-10),(123.6,1.25e-10),(124.7,4.3e-10),(126.3,3.4e-10),
(127.9,2.5e-10),(129.0,1.2e-9),(129.5,2.5e-10),(130.3,6.1e-11),(131.7,1.6e-10),(133.3,1.14e-10),(134.9,9.8e-11),(136.0,2.95e-10),(137.1,2.75e-10),(138.7,1.14e-10),
(140.3,1.9e-10),(141.9,1.14e-10),(143.0,6.1e-11),(144.6,4.0e-10),(146.2,4.7e-10),(147.9,3.4e-10),(149.5,2.15e-10),(150.6,6.6e-11),(151.6,4.2e-9),(152.7,1.27e-8),
(153.8,2.8e-8),(154.9,1.75e-8),(155.9,1.27e-8),(157.0,5.75e-9),(158.1,4.9e-9),(159.2,3.6e-9),(160.3,7.0e-10),(161.3,1.6e-9),(162.4,2.2e-9),(163.5,1.2e-9),
(164.6,5.5e-10),(165.7,1.4e-9),(166.8,2.6e-9),(167.8,2.1e-9),(168.9,3.6e-9),(170.0,6.75e-9),(171.1,3.8e-8),(172.2,2.35e-8),(173.2,1.5e-8),(174.3,1.08e-8),
(175.4,9.3e-9),(176.5,6.75e-9),(177.5,8.2e-10),(178.1,2.5e-10),(179.2,6.75e-9),(180.3,1.75e-8),(181.3,2.2e-8),(183.0,1.5e-8),(184.6,1.08e-8),(186.2,8.55e-9),
(187.8,4.9e-9),(189.4,4.2e-9),(191.1,3.6e-9),(192.7,3.1e-9),(194.3,2.2e-9),(195.4,1.2e-9),(197.0,1.03e-9),(198.6,8.2e-10),(200.2,1.03e-9),(201.8,7.5e-10),
(203.5,5.5e-10),(204.5,1.7e-10),(205.3,4.1e-11),(206.1,2.5e-10),(207.2,3.6e-9),(208.3,1.5e-8),(209.4,7.9e-9),(210.5,5.75e-9),(211.5,4.9e-9),(212.1,8.3e-11),
(213.2,1.08e-8),(214.2,1.75e-8),(215.3,9.3e-9),(216.4,5.75e-9),(217.5,3.6e-9),(218.6,2.85e-9),(220.2,2.6e-9),(221.8,2.2e-9),(223.4,1.8e-9),(224.5,5.75e-9),
(225.0,1.2e-9),(226.1,4.0e-10),(227.2,7.5e-10),(228.3,3.4e-10),(229.4,9.8e-11),(230.4,2.2e-9),(231.5,8.2e-10),(232.6,1.03e-9),(233.7,1.5e-9),(234.8,1.8e-9),
(235.8,2.95e-10),(236.9,7.9e-9),(238.0,3.8e-8),(239.1,1.23e-7),(240.1,7.7e-8),(241.2,4.4e-8),(242.3,5.75e-9),(242.8,5.5e-10),(243.4,9.8e-11),(244.5,5.75e-9),
(246.1,1.08e-8),(247.2,2.35e-8),(248.2,2.8e-8),(249.3,8.3e-8),(250.4,3.2e-8),(251.5,3.6e-9),(252.6,1.08e-8),(253.6,1.5e-8),(255.3,1.08e-8),(256.9,7.9e-9),
(258.5,9.3e-9),(260.1,4.2e-9),(261.2,1.8e-9),(262.3,1.25e-10),(263.4,1.2e-9),(264.4,9.3e-9),(265.5,3.2e-8),(266.6,9.8e-8),(267.1,1.6e-7),(268.2,8.3e-8),
(269.3,5.2e-8),(270.4,1.03e-9),(271.5,5.75e-9),(272.6,2.2e-8),(273.6,3.5e-8),(275.2,2.35e-8),(276.3,3.0e-8),(277.4,1.27e-8),(278.5,6.6e-11),(279.5,2.6e-9),
(280.6,1.2e-9),(281.7,3.4e-10),(282.8,1.23e-7),(283.9,2.7e-7),(284.9,1.34e-7),(286.0,1.4e-9),(287.1,1.75e-8),(288.2,6.1e-8),(289.2,2.35e-8),(290.3,2.85e-9),
(291.4,1.75e-8),(292.5,2.35e-8),(294.1,2.05e-8),(295.7,1.27e-8),(296.8,7.9e-9),(297.9,1.4e-9),(299.0,3.6e-9),(300.6,4.2e-9),(302.2,4.9e-9),(303.8,4.2e-9),
(305.5,3.6e-9),(306.5,2.6e-9),(307.3,4.0e-10),(308.4,1.27e-8),(309.5,2.5e-8),(310.8,1.27e-8),(312.5,5.75e-9),(314.1,3.6e-9),(315.7,2.2e-9),(316.8,5.1e-10),
(317.9,4.9e-9),(319.5,1.08e-8),(321.1,7.9e-9),(322.7,9.3e-9),(323.8,1.4e-9),(324.9,7.5e-10),(326.0,1.08e-8),(327.0,2.5e-8),(328.7,1.75e-8),(329.7,3.1e-9),
(330.6,2.0e-10),(331.3,1.2e-9),(332.9,4.0e-10),(334.0,1.2e-9),(335.6,3.6e-9),(337.3,1.5e-8),(338.9,9.3e-9),(340.5,7.9e-9),(342.2,6.75e-9),(343.8,4.2e-9),
(345.4,1.95e-9),(346.5,5.5e-10),(348.1,4.7e-10),(349.8,4.3e-10),(351.4,3.4e-10),(352.5,6.4e-10),(353.5,1.6e-9),(355.2,1.95e-9),(356.8,2.1e-9),(357.9,5.5e-10),
(359.0,1.14e-10),(360.6,8.3e-11),(362.2,7.7e-11),(363.8,9.8e-11),(365.5,7.7e-11),(366.6,7.5e-10),(367.7,3.1e-9),(369.3,2.2e-9),(370.9,1.6e-9),(372.0,3.4e-10),
(373.1,1.25e-10),(374.2,5.5e-10),(375.2,7.5e-10),(376.9,5.5e-10),(378.0,3.75e-10),(379.0,2.6e-9),(380.1,4.9e-9),(381.2,1.2e-8),(382.3,7.9e-9),(383.9,5.75e-9),
(385.5,4.9e-9),(387.1,4.2e-9),(388.7,3.6e-9),(390.3,3.1e-9),(391.4,2.6e-9),(392.5,1.8e-9),(393.6,5.5e-10),(394.7,7.1e-11),(395.7,1.35e-10),(396.8,1.7e-10),
(398.4,2.5e-10),(400.1,3.1e-10),(401.1,2.15e-10),(402.2,1.14e-10),(403.3,7.7e-11),(404.4,2.75e-10),(405.4,1.2e-9),(406.5,5.75e-9),(407.6,4.2e-9),(409.2,3.1e-9),
(410.3,3.4e-10),(411.4,5.5e-10),(413.0,4.0e-10),(414.6,4.3e-10),(416.8,3.4e-10),
(417.8,3.4e-10),(419.4,3.75e-10),(421.0,2.95e-10),(422.7,2.3e-10),(423.7,1.14e-10),(424.8,1.35e-10),(426.4,1.9e-10),(428.1,2.0e-10),(429.7,1.9e-10),(431.3,2.0e-10),
(432.4,1.14e-10),(433.4,1.7e-10),(435.1,1.9e-10),(436.7,2.5e-10),(438.3,1.7e-10),(439.4,9.8e-11),(441.0,1.25e-10),(442.6,9.8e-11),(444.2,1.05e-10),(445.9,1.45e-10),
(447.5,1.35e-10),(449.1,9.8e-11),(450.7,5.6e-11),(452.3,6.1e-11),(454.0,5.6e-11),(455.6,6.1e-11),(457.2,5.2e-11),(458.3,6.0e-10),(459.4,1.2e-9),(460.4,1.95e-9),
(461.5,2.1e-9),(462.6,1.2e-9),(463.7,6.4e-10),(464.8,4.0e-10),(465.8,6.4e-10),(467.5,5.5e-10),(469.1,4.7e-10),(470.7,6.4e-10),(472.3,5.5e-10),(473.9,6.4e-10),
(475.6,5.1e-10),(476.6,4.3e-10),(477.2,1.05e-10),(478.3,2.5e-10),(479.9,2.3e-10),(481.5,2.0e-10),(483.1,1.9e-10),(484.7,1.7e-10),(486.3,1.45e-10),(488.0,1.35e-10),
(489.6,1.25e-10),(491.2,1.14e-10),(492.8,9.0e-11),(494.4,5.2e-11),(495.5,1.2e-9),(496.6,4.9e-9),(497.7,7.9e-9),(498.8,4.9e-9),(499.8,4.5e-9),(500.9,3.6e-9),
(502.0,4.7e-10),(502.8,6.6e-11),(503.6,2.5e-10),(504.7,1.9e-10),(505.8,9.0e-11),(506.9,1.95e-9),(507.9,1.27e-8),(509.0,3.0e-8),(510.1,1.27e-8),(511.2,1.4e-9),
(512.3,2.6e-9),(513.3,2.2e-9),(514.4,6.6e-11),(515.5,1.14e-10),(516.6,1.6e-10),(517.7,1.9e-10),(519.3,1.6e-10),(520.9,1.9e-10),(522.5,2.15e-10),(524.1,2.95e-10),
(525.8,1.7e-10),(527.4,9.8e-11),(528.5,4.1e-11),(529.5,6.1e-11),(531.2,5.2e-11),(532.8,4.8e-11),(533.8,3.8e-11),(535.5,9.8e-11),(537.1,7.1e-11),(538.7,8.3e-11),
(540.3,7.1e-11),(541.9,8.3e-11),(543.6,9.0e-11),(545.2,1.25e-10),(546.8,9.0e-11),(548.4,9.8e-11),(550.1,7.7e-11),(551.7,6.1e-11),(553.3,5.6e-11),(554.9,6.1e-11),
(556.5,5.2e-11),(557.6,2.0e-10),(558.7,5.5e-10),(559.8,1.3e-9),(560.8,8.8e-10),(561.9,5.5e-10),(563.5,3.4e-10),(565.2,5.5e-10),(566.2,1.7e-10),(567.3,6.4e-10),
(568.4,4.7e-10),(569.5,7.5e-10),(570.6,1.4e-9),(571.6,1.6e-9),(573.3,2.1e-9),(574.3,1.95e-9),(575.4,9.0e-11),(576.5,2.95e-10),(577.6,2.15e-10),(578.7,1.35e-10),
(579.7,1.14e-10),(580.8,2.15e-10),(582.4,1.6e-10),(584.1,2.5e-10),(585.7,3.4e-10),(587.3,5.5e-10),(588.4,7.5e-10),(590.0,4.7e-10),(591.6,4.3e-10),(593.2,4.0e-10),
(594.9,3.4e-10),(596.5,2.95e-10),(598.1,1.35e-10),(599.2,5.5e-10),(600.3,4.0e-10),(601.9,4.0e-10),(603.5,3.1e-10),(605.1,1.6e-10),(606.7,2.5e-10),(608.4,1.9e-10),
(610.0,1.14e-10),(611.6,9.0e-11),(613.2,8.3e-11),(614.8,9.8e-11),(616.4,6.1e-11),(618.1,9.8e-11),(619.7,1.25e-10),(621.3,1.14e-10),(622.9,1.45e-10),(624.5,1.14e-10),
(625.6,2.5e-10),(626.7,5.5e-10),(627.8,4.7e-10),(629.4,4.0e-10),(631.0,4.7e-10),(632.6,3.4e-10),(634.3,2.5e-10),(635.9,1.7e-10),(637.5,1.35e-10),(639.1,1.6e-10),
(640.7,1.14e-10),(642.4,1.25e-10),(644.0,9.8e-11),(645.6,1.14e-10),(647.2,1.25e-10),(648.8,1.6e-10),(650.5,1.25e-10),(652.1,1.14e-10),(653.7,1.35e-10),(655.3,9.8e-11),
(656.9,8.3e-11),(658.5,7.7e-11),(660.2,6.6e-11),(661.8,7.7e-11),(663.4,7.1e-11),(665.0,5.6e-11),(666.7,5.2e-11),(667.7,7.1e-11),(668.8,4.5e-11),(669.9,8.3e-11),
(670.9,1.7e-10),(672.0,5.5e-10),(673.1,1.4e-9),(674.2,1.6e-9),(675.8,1.8e-9),(677.4,3.1e-9),(678.5,2.1e-9),(679.6,5.5e-10),(681.2,5.1e-10),(682.8,7.0e-10),
(684.5,1.03e-9),(685.5,3.75e-10),(686.6,1.9e-10),(687.7,1.05e-10),(688.8,1.2e-9),(689.9,1.4e-9),(691.5,1.8e-9),(693.2,1.6e-9),(694.2,2.75e-10),(695.3,2.6e-9),
(696.4,9.3e-9),(697.4,1.85e-8),(698.5,2.8e-8),(699.6,3.2e-8),(700.7,5.2e-8),(701.7,7.1e-8),(702.8,8.3e-8),(703.9,3.2e-8),(705.0,1.2e-9),(706.1,4.2e-9),
(707.1,3.6e-9),(708.2,4.9e-9),(709.3,2.2e-9),(710.4,5.5e-10),(711.5,1.35e-10),(712.5,9.8e-11),(713.6,1.14e-10),(715.2,9.0e-11),(716.9,1.14e-10),(717.9,7.1e-11),
(719.0,6.1e-11),(720.1,2.5e-10),(721.2,6.4e-10),(722.2,1.4e-9),(723.3,5.75e-9),(724.4,9.3e-9),(725.5,1.5e-8),(726.6,2.35e-8),(727.6,1.75e-8),(728.7,2.85e-9),
(729.8,2.5e-8),(730.9,1.75e-8),(732.5,1.08e-8),(734.1,5.75e-9),(735.7,8.55e-9),(737.4,5.75e-9),(738.4,1.4e-9),(739.5,2.2e-9),(740.6,6.4e-10),(741.7,4.0e-10),
(743.3,3.75e-10),(744.4,2.15e-10),(745.5,5.5e-10),(746.5,1.2e-9),(747.6,5.75e-9),(748.7,1.75e-8),(749.8,5.2e-8),(750.9,1.55e-7),(752.0,1.6e-7),(753.0,1.34e-7),
(754.1,5.2e-8),(755.2,3.2e-8),(756.2,1.27e-8),(757.3,2.8e-8),(758.4,1.75e-8),(760.0,1.08e-8),(761.6,6.75e-9),(763.3,3.6e-9),(764.3,1.14e-10),(765.4,4.7e-10),
(766.5,3.1e-10),(767.6,6.4e-10),(769.2,4.0e-10),(770.3,2.15e-10),(771.4,1.35e-10),(772.4,2.5e-10),(773.5,4.0e-10),(774.6,1.95e-9),(775.7,1.27e-8),(776.7,4.1e-8),
(777.8,6.6e-8),(778.9,1.75e-8),(780.0,3.1e-9),(781.1,1.27e-8),(782.2,5.75e-9),(783.8,1.27e-8),(785.4,9.3e-9),(786.5,4.2e-9),(787.6,1.2e-9),(789.2,7.5e-10),
(790.8,5.5e-10),(791.9,2.15e-10),(792.9,4.7e-10),(794.0,7.5e-10),(795.1,5.5e-10),(796.2,1.2e-9),(797.3,9.3e-9),(798.4,3.5e-8),(799.5,1.08e-8),(800.5,5.75e-9),
(801.6,2.35e-8),(802.7,9.3e-9),(803.8,1.75e-8),(804.8,1.55e-7),(805.9,1.08e-8),(807.0,2.35e-8),(808.1,6.75e-9),(809.2,1.75e-8),(810.2,4.2e-9),(810.8,2.5e-10),
(811.3,2.2e-11),(812.4,7.7e-11),(813.5,2.5e-10),(814.6,1.2e-9),(815.6,2.2e-9),(816.7,7.5e-10),(817.8,2.15e-10),(818.9,1.6e-10),(819.9,1.03e-9),(821.3,1.95e-9),
]

# injection-event markers (days since start) and their plotted level
event_day = [7.6, 44.0, 76.4, 105.0, 136.0, 144.4, 151.4, 167.3, 205.3, 228.8, 262.5, 282.8, 307.3,
             318.4, 325.7, 352.7, 366.2, 378.3, 395.8, 403.9, 433.4, 457.5, 495.3, 506.1, 557.3,
             567.1, 598.9, 614.8, 625.4, 669.3, 688.8, 718.2, 722.8, 746.3, 791.6, 796.5, 813.8]
event_level = 1.9e-8

panel_titles = ["Seed PSD (100 MeV/G)", "Core PSD (700 MeV/G)", "Ultra PSD (3000 MeV/G)"]
panel_decades = [list(range(-7, -1)), list(range(-8, -3)), list(range(-11, -5))]
title_text = "K = 0.11 R<sub>E</sub> G<sup>1/2</sup> L* = 5.0"

# ---------------- helpers ----------------
t0 = pd.Timestamp(START)
def to_dates(days):
    return [t0 + pd.Timedelta(days=float(d)) for d in days]

def split(points):
    return [p[0] for p in points], [p[1] for p in points]

seed_day, seed_psd = split(seed_points)
core_day, core_psd = split(core_points)
ultra_day, ultra_psd = split(ultra_points)

# ---------------- figure ----------------
W, H = 3679, 1979
ML, MR, MT, MB = 421, 190, 117, 109
PW, PH = W - ML - MR, H - MT - MB
def py(px):   # pixel row -> paper y
    return (H - MB - px) / PH
def pxp(px):  # pixel column -> paper x
    return (px - ML) / PW

panel_px = [(117, 632), (736, 1251), (1355, 1870)]
PANEL_H = 515

fig = make_subplots(rows=3, cols=1)

fig.add_trace(go.Scatter(x=to_dates(seed_day), y=seed_psd, mode="lines",
                         line=dict(color="#008000", width=2.5), hoverinfo="skip"), row=1, col=1)
fig.add_trace(go.Scatter(x=to_dates(core_day), y=core_psd, mode="lines",
                         line=dict(color="#0000ff", width=3.4), hoverinfo="skip"), row=2, col=1)
fig.add_trace(go.Scatter(x=to_dates(event_day), y=[event_level] * len(event_day), mode="markers",
                         marker=dict(symbol="arrow-up", size=27, color="#7f7f7f",
                                     line=dict(color="#3a3a3a", width=1.5)),
                         hoverinfo="skip", cliponaxis=False), row=2, col=1)
fig.add_trace(go.Scatter(x=to_dates(ultra_day), y=ultra_psd, mode="lines",
                         line=dict(color="#ff0000", width=2.5), hoverinfo="skip"), row=3, col=1)

xtickfont = dict(family="Liberation Sans, Arial, sans-serif", size=41, color="black")
ytickfont = dict(family="Liberation Sans, Arial, sans-serif", size=43, color="black")
shapes = []
for i in range(3):
    top, bot = panel_px[i]
    n = "" if i == 0 else str(i + 1)
    fig.update_xaxes(
        row=i + 1, col=1, type="date", range=[START, END], tickvals=x_ticks, ticktext=x_ticks,
        ticks="outside", ticklen=17, tickwidth=2, tickcolor="black",
        showline=True, linewidth=3.2, linecolor="black", mirror="ticks",
        showgrid=True, gridcolor="#a0a0a0", griddash="5px,7px", gridwidth=1.3,
        tickfont=xtickfont, ticklabelstandoff=-14, zeroline=False,
        domain=[0, 1],
    )
    decs = panel_decades[i]
    fig.update_yaxes(
        row=i + 1, col=1, type="log", range=[decs[0], decs[-1]],
        tickvals=[10.0 ** e for e in decs], ticktext=[f"10<sup>{e}</sup>" for e in decs],
        ticks="outside", ticklen=18, tickwidth=2, tickcolor="black",
        showline=True, linewidth=2, linecolor="black", mirror="allticks",
        showgrid=True, gridcolor="#8a8a8a", griddash="3px,9px", gridwidth=1.6,
        minor=dict(ticks="inside", ticklen=9, tickwidth=1.6, tickcolor="black", dtick="D1",
                   showgrid=True, gridcolor="#9a9a9a", griddash="3px,9px", gridwidth=1.6),
        tickfont=ytickfont, ticklabelstandoff=8, zeroline=False,
        domain=[py(bot), py(top)],
    )
    # inner halves of the major tick marks (ticks cross the frame in the original)
    fx = 15 / PW
    fy = 17 / PANEL_H
    for d in x_ticks:
        for (a, b) in [(0, fy), (1 - fy, 1)]:
            shapes.append(dict(type="line", xref=f"x{n}", yref=f"y{n} domain", x0=d, x1=d, y0=a, y1=b,
                               line=dict(color="black", width=2), layer="above"))
    for e in decs[1:-1]:
        for (a, b) in [(0, fx), (1 - fx, 1)]:
            shapes.append(dict(type="line", xref=f"x{n} domain", yref=f"y{n}", x0=a, x1=b,
                               y0=10.0 ** e, y1=10.0 ** e, line=dict(color="black", width=2), layer="above"))

# background: light blue frame with white card
shapes.insert(0, dict(type="rect", xref="paper", yref="paper", layer="below",
                      x0=pxp(52), x1=pxp(3653), y0=py(1985), y1=py(7),
                      fillcolor="white", line=dict(width=0)))

annotations = [
    dict(text=title_text, x=pxp(1873), y=py(72), xref="paper", yref="paper",
         xanchor="center", yanchor="middle", showarrow=False,
         font=dict(family="Lato, Open Sans, sans-serif", size=74, color="black")),
    dict(text="Phase Space Density <span style=\"font-family:Liberation Serif;font-size:92px\"><i>(<sup>c</sup>/<sub>cm·MeV</sub>)<sup>3</sup></i></span>",
         x=pxp(116), y=py(946), xref="paper", yref="paper", textangle=-90,
         xanchor="center", yanchor="middle", showarrow=False,
         font=dict(family="Lato, Open Sans, sans-serif", size=82, color="black")),
]
label_x = [272, 272, 255]
for i in range(3):
    top, bot = panel_px[i]
    annotations.append(dict(text=panel_titles[i], x=pxp(label_x[i]), y=py((top + bot) / 2),
                            xref="paper", yref="paper", textangle=-90,
                            xanchor="center", yanchor="middle", showarrow=False,
                            font=dict(family="Liberation Sans, Arial, sans-serif", size=41, color="black")))

fig.update_layout(
    width=W, height=H,
    margin=dict(l=ML, r=MR, t=MT, b=MB, autoexpand=False),
    paper_bgcolor="#dfe6f2", plot_bgcolor="white",
    showlegend=False, annotations=annotations, shapes=shapes, hovermode=False,
)

fig.write_html("out.html")
